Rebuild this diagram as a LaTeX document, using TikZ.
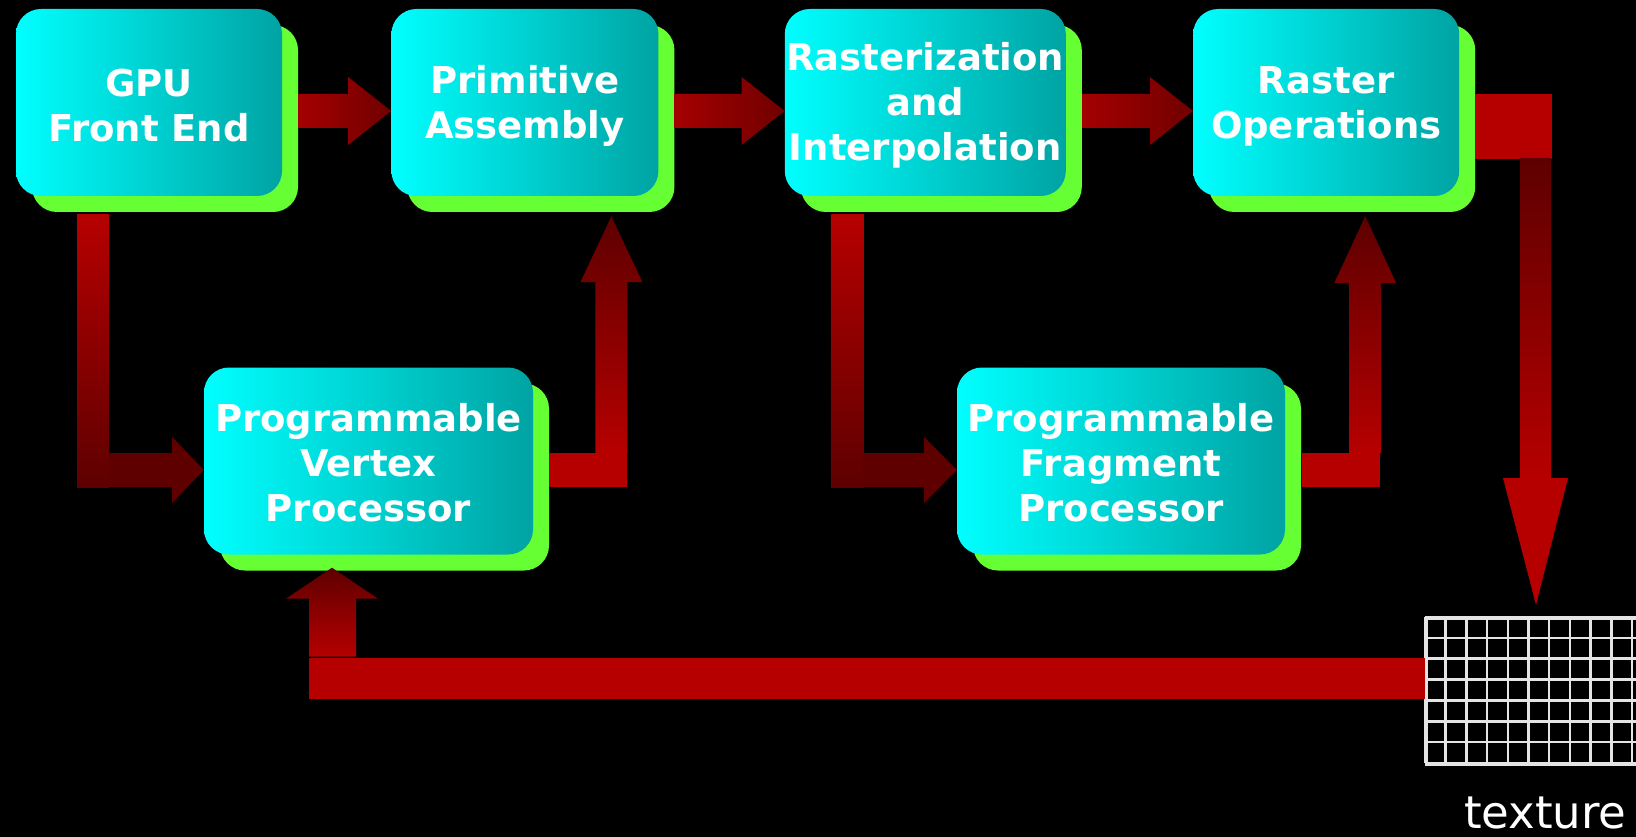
\documentclass[tikz,border=0pt]{standalone}
\usepackage{fontspec}
\setmainfont{DejaVu Sans}
\usepackage{tikz}
\usetikzlibrary{shapes.geometric, shadows, calc, positioning}
\usepackage{xcolor}
\definecolor{boxcyan}{RGB}{0,255,255}
\definecolor{boxteal}{RGB}{0,163,163}
\definecolor{shadowgreen}{RGB}{102,255,51}
\definecolor{flowred}{RGB}{182,0,0}
\definecolor{flowdark}{RGB}{94,0,0}
\definecolor{hred}{RGB}{165,0,0}
\definecolor{hdark}{RGB}{112,0,0}
\definecolor{gridgray}{RGB}{228,228,228}
\tikzstyle{block} = [rectangle, rounded corners=25pt, left color=boxcyan, right color=boxteal, text=white, font=\fontsize{37}{45}\selectfont\bfseries, align=center, inner sep=0pt, minimum height=187pt, drop shadow={shadow xshift=16pt, shadow yshift=-16pt, fill=shadowgreen, opacity=1}]
\tikzstyle{hflow} = [left color=hred, right color=hdark]
\tikzstyle{texgrid} = [rectangle, draw=gridgray, line width=2.5pt, minimum width=238pt, minimum height=146pt, inner sep=0pt]
\tikzstyle{texlabel} = [text=white, font=\fontsize{45}{54}\selectfont, inner sep=0pt]

\begin{document}
\begin{tikzpicture}[x=1pt, y=-1pt]
    \useasboundingbox (0,0) rectangle (1636,837);
    \clip (0,0) rectangle (1636,837);
    \fill[black] (0,0) rectangle (1636,837);

    % Place nodes
    \node [block, minimum width=266pt] (gpu) at (149,102.5) {\rule{0pt}{34pt}GPU \\ Front End};
    \node [block, minimum width=267pt, right=109pt of gpu] (prim) {\rule{0pt}{34pt}Primitive \\ Assembly};
    \node [block, minimum width=281pt, right=126pt of prim] (rast) {\rule{0pt}{34pt}Rasterization \\ and \\ Interpolation};
    \node [block, minimum width=266pt, right=127pt of rast] (rop) {\rule{0pt}{34pt}Raster \\ Operations};
    \node [block, minimum width=329pt] (vp) at (368.5,461) {\rule{0pt}{31pt}Programmable \\ Vertex \\ Processor};
    \node [block, minimum width=328pt] (fp) at (1121,461) {\rule{0pt}{31pt}Programmable \\ Fragment \\ Processor};
    \node [texgrid, anchor=north west] (tex) at (1425,617) {};
    \draw [gridgray, line width=2.5pt, xstep=20.7pt, ystep=20.857pt, shift={(tex.north west)}] (0,0) grid (238,146);
    \node [texlabel, anchor=base] (texname) at ($(tex.south)+(0,63)$) {texture};

    % Draw edges
    \shade [hflow] ($(gpu.east)+(16,-8.5)$) -- ($(prim.west)+(-43,-8.5)$) -- ($(prim.west)+(-43,-25.5)$) -- ($(prim.west)+(0,8.5)$) -- ($(prim.west)+(-43,42.5)$) -- ($(prim.west)+(-43,25.5)$) -- ($(gpu.east)+(16,25.5)$) -- cycle;
    \shade [hflow] ($(prim.east)+(16,-8.5)$) -- ($(rast.west)+(-43,-8.5)$) -- ($(rast.west)+(-43,-25.5)$) -- ($(rast.west)+(0,8.5)$) -- ($(rast.west)+(-43,42.5)$) -- ($(rast.west)+(-43,25.5)$) -- ($(prim.east)+(16,25.5)$) -- cycle;
    \shade [hflow] ($(rast.east)+(16,-8.5)$) -- ($(rop.west)+(-43,-8.5)$) -- ($(rop.west)+(-43,-25.5)$) -- ($(rop.west)+(0,8.5)$) -- ($(rop.west)+(-43,42.5)$) -- ($(rop.west)+(-43,25.5)$) -- ($(rast.east)+(16,25.5)$) -- cycle;

    \shade [top color=flowred, bottom color=flowdark] ($(gpu.south)+(-72,18)$) rectangle ($(gpu.south)+(-40,291)$);
    \fill [flowdark] ($(vp.west)+(-95,-8)$) -- ($(vp.west)+(-32,-8)$) -- ($(vp.west)+(-32,-24.5)$) -- ($(vp.west)+(0,9)$) -- ($(vp.west)+(-32,42.5)$) -- ($(vp.west)+(-32,26)$) -- ($(vp.west)+(-95,26)$) -- cycle;

    \fill [flowred] ($(vp.east)+(16,-8)$) rectangle ($(vp.east)+(94,26)$);
    \shade [top color=flowdark, bottom color=flowred] ($(prim.south)+(70.5,257)$) -- ($(prim.south)+(70.5,86)$) -- ($(prim.south)+(55.5,86)$) -- ($(prim.south)+(86.5,20)$) -- ($(prim.south)+(117.5,86)$) -- ($(prim.south)+(102.5,86)$) -- ($(prim.south)+(102.5,257)$) -- cycle;

    \shade [top color=flowred, bottom color=flowdark] ($(rast.south)+(-94.5,18)$) rectangle ($(rast.south)+(-61.5,291)$);
    \fill [flowdark] ($(fp.west)+(-94,-8)$) -- ($(fp.west)+(-33,-8)$) -- ($(fp.west)+(-33,-24.5)$) -- ($(fp.west)+(0,9)$) -- ($(fp.west)+(-33,42.5)$) -- ($(fp.west)+(-33,26)$) -- ($(fp.west)+(-94,26)$) -- cycle;

    \fill [flowred] ($(fp.east)+(17,-8)$) rectangle ($(fp.east)+(95,26)$);
    \shade [top color=flowdark, bottom color=flowred] ($(rop.south)+(23,257)$) -- ($(rop.south)+(23,87)$) -- ($(rop.south)+(8,87)$) -- ($(rop.south)+(39,20)$) -- ($(rop.south)+(70,87)$) -- ($(rop.south)+(55,87)$) -- ($(rop.south)+(55,257)$) -- cycle;

    \fill [flowred] ($(rop.east)+(16,-8.5)$) rectangle ($(rop.east)+(93,56.5)$);
    \shade [top color=flowdark, bottom color=flowred] ($(rop.east)+(61,56.5)$) rectangle ($(tex.north west)+(126,-139)$);
    \fill [flowred] ($(tex.north west)+(78,-139)$) -- ($(tex.north west)+(143,-139)$) -- ($(tex.north west)+(111,-12)$) -- cycle;

    \fill [flowred] ($(tex.west)+(0,-33)$) rectangle ($(vp.south)+(-59.5,144)$);
    \shade [top color=flowdark, bottom color=flowred] ($(vp.south)+(-59.5,102)$) -- ($(vp.south)+(-59.5,44)$) -- ($(vp.south)+(-82.5,44)$) -- ($(vp.south)+(-36.5,13)$) -- ($(vp.south)+(9.5,44)$) -- ($(vp.south)+(-12.5,44)$) -- ($(vp.south)+(-12.5,102)$) -- cycle;
\end{tikzpicture}
\end{document}
